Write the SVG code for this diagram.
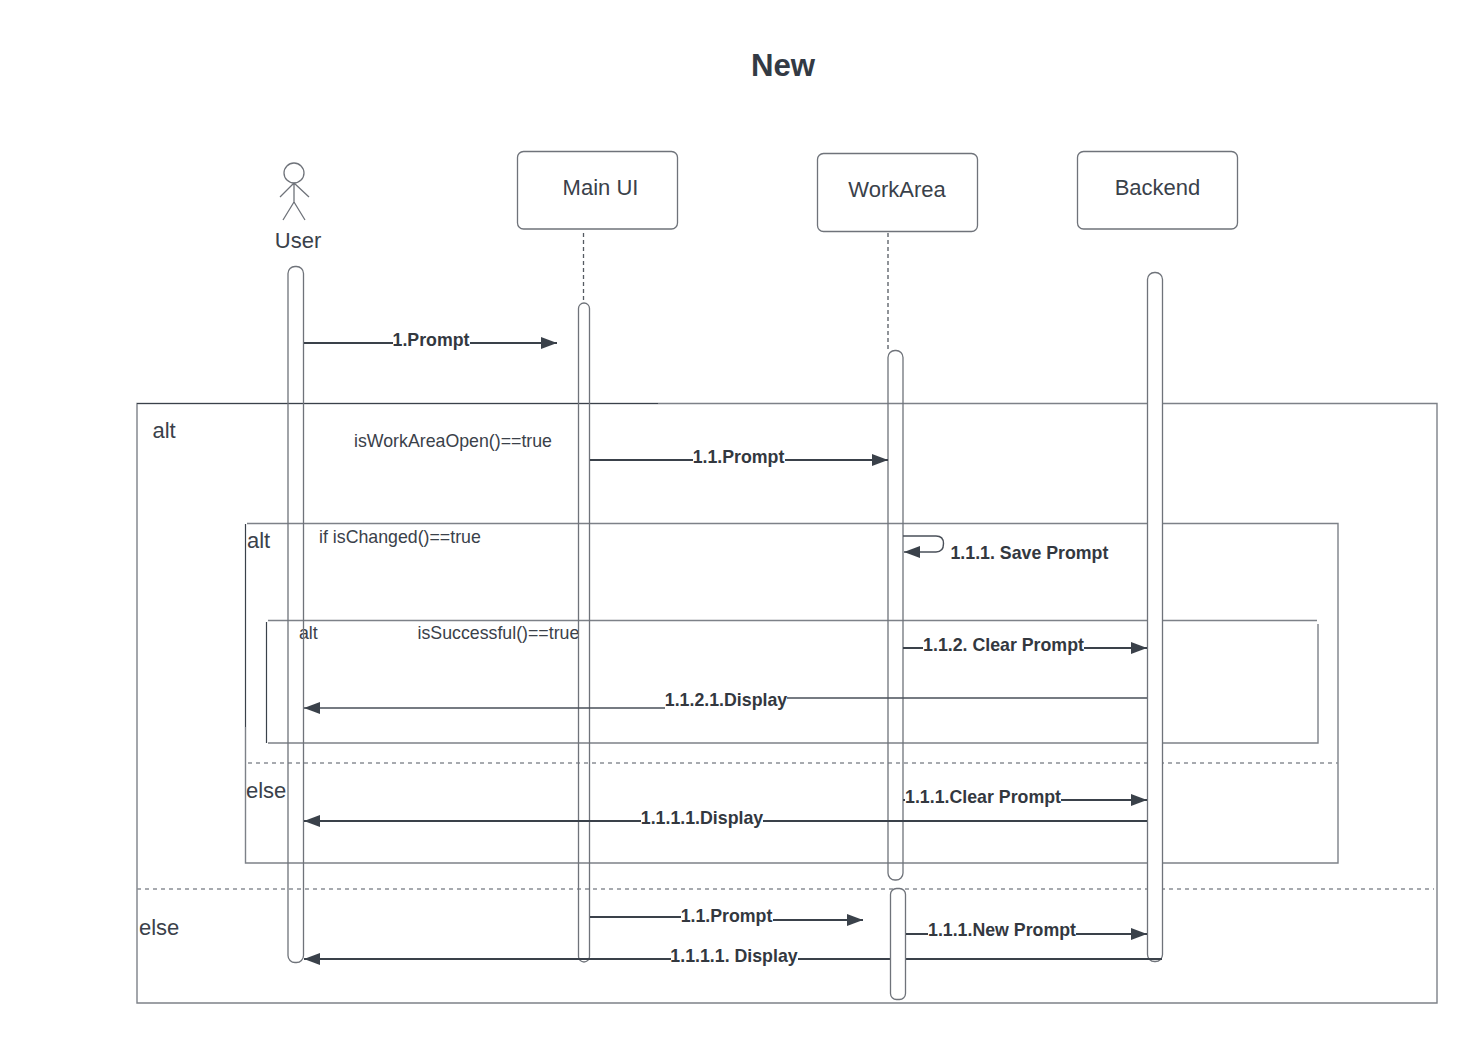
<svg xmlns="http://www.w3.org/2000/svg" width="1478" height="1044" viewBox="0 0 1478 1044">
<style>
text{font-family:"Liberation Sans",Arial,sans-serif;fill:#3a414a}
.t{font-size:22px}
.c{font-size:17.75px}
.m{font-size:17.75px;font-weight:bold;fill:#33383f;text-anchor:middle}
.f{fill:none;stroke:#7d8188;stroke-width:1.4}
.fd{fill:none;stroke:#3a414a;stroke-width:1.2}
.d{fill:none;stroke:#8b8f95;stroke-width:1.3;stroke-dasharray:4 4}
.b{fill:#fff;stroke:#6f737a;stroke-width:1.3}
.o{fill:none;stroke:#6f737a;stroke-width:1.3}
.a{fill:none;stroke:#3a414a;stroke-width:2}
.a1{fill:none;stroke:#4a5059;stroke-width:1.4}
.lab{fill:#fff;stroke:none}
</style>
<defs>
<marker id="ah" markerUnits="userSpaceOnUse" markerWidth="17" markerHeight="12" refX="16" refY="6" orient="auto"><path d="M0 0L16 6L0 12Z" fill="#3a414a"/></marker>
</defs>
<rect width="1478" height="1044" fill="#fff"/>
<text x="783" y="76" text-anchor="middle" style="font-size:31.2px;font-weight:bold;fill:#333a44">New</text>

<g id="frames">
<path class="f" d="M137 403.500H1437V1003H137Z"/>
<path class="fd" d="M137 403.500H658"/>
<path class="d" d="M137 889H1434"/>
<path class="f" d="M247 523.500H1338V863H245.500V727"/>
<path class="fd" d="M245.500 524V727"/>
<path class="d" d="M248 763H1338"/>
<path class="f" d="M268 620.500H1317M1318 624V743H268"/>
<path class="fd" d="M266.500 622V743"/>
<text x="152.500" y="438" class="t">alt</text>
<text x="354" y="446.500" class="c">isWorkAreaOpen()==true</text>
<text x="247" y="548" class="t">alt</text>
<text x="319" y="543" class="c">if isChanged()==true</text>
<text x="299" y="638.500" class="c">alt</text>
<text x="417.500" y="638.500" class="c">isSuccessful()==true</text>
<text x="246" y="798" class="t">else</text>
<text x="139" y="935" class="t">else</text>
</g>

<g id="user">
<circle class="b" cx="294" cy="173" r="10"/>
<path class="o" d="M294 183V202M294 183L280 197M294 183L309 197M294 202L283 220M294 202L305 220"/>
<text x="298" y="248" text-anchor="middle" class="t">User</text>
<rect class="o" x="288" y="266.500" width="15.500" height="696" rx="7"/>
</g>
<g id="main-ui">
<rect class="b" x="517.500" y="151.500" width="160" height="77.500" rx="6"/>
<text x="600.500" y="195" text-anchor="middle" class="t">Main UI</text>
<path class="d" style="stroke:#555a62;stroke-dasharray:4 3" d="M583.500 233V303"/>
<rect class="o" x="578.500" y="303" width="11" height="659" rx="5.500"/>
</g>
<g id="workarea">
<rect class="b" x="817.500" y="153.500" width="160" height="78" rx="6"/>
<text x="897" y="197" text-anchor="middle" class="t">WorkArea</text>
<path class="d" style="stroke:#555a62;stroke-dasharray:4 3" d="M888 233V351"/>
<rect class="o" x="888" y="350.500" width="15" height="529.500" rx="7"/>
</g>
<g id="backend">
<rect class="b" x="1077.500" y="151.500" width="160" height="77.500" rx="6"/>
<text x="1157.500" y="195" text-anchor="middle" class="t">Backend</text>
<rect class="b" x="1147.500" y="272.500" width="15" height="689" rx="7"/>
</g>

<g id="connectors">
<path class="a" d="M304 343H557" marker-end="url(#ah)"/>
<path class="a" d="M590 460H888" marker-end="url(#ah)"/>
<path class="a1" d="M903 536H936Q943.500 536 943.500 543.500Q943.500 552 936 552H904" marker-end="url(#ah)"/>
<path class="a" d="M903 648H1147" marker-end="url(#ah)"/>
<path class="a1" d="M1147 698H726V708H304" marker-end="url(#ah)"/>
<path class="a" d="M903 800H1147" marker-end="url(#ah)"/>
<path class="a" d="M1147 821H304" marker-end="url(#ah)"/>
<path class="a" d="M590 917H726V920H863" marker-end="url(#ah)"/>
<path class="a" d="M1162 959H304" marker-end="url(#ah)"/>
<rect id="workarea-2" class="b" x="890.500" y="888.500" width="15" height="111" rx="6"/>
<path class="a" d="M906 934H1147" marker-end="url(#ah)"/>
<rect class="lab" x="393" y="331" width="77" height="20"/>
<text x="431" y="346" class="m">1.Prompt</text>
<rect class="lab" x="693" y="448" width="92" height="20"/>
<text x="738.500" y="463" class="m">1.1.Prompt</text>
<text x="950.500" y="558.500" style="text-anchor:start" class="m">1.1.1. Save Prompt</text>
<rect class="lab" x="923" y="636" width="161" height="20"/>
<text x="1003.500" y="651" class="m">1.1.2. Clear Prompt</text>
<rect class="lab" x="665" y="691" width="122" height="20"/>
<text x="726" y="706" class="m">1.1.2.1.Display</text>
<rect class="lab" x="905" y="788" width="156" height="20"/>
<text x="983" y="803" class="m">1.1.1.Clear Prompt</text>
<rect class="lab" x="641" y="809" width="122" height="20"/>
<text x="702" y="824" class="m">1.1.1.1.Display</text>
<rect class="lab" x="681" y="907" width="92" height="20"/>
<text x="726.500" y="922" class="m">1.1.Prompt</text>
<rect class="lab" x="928" y="921" width="148" height="20"/>
<text x="1002" y="936" class="m">1.1.1.New Prompt</text>
<rect class="lab" x="671" y="947" width="127" height="20"/>
<text x="734" y="962" class="m">1.1.1.1. Display</text>
</g>
</svg>
